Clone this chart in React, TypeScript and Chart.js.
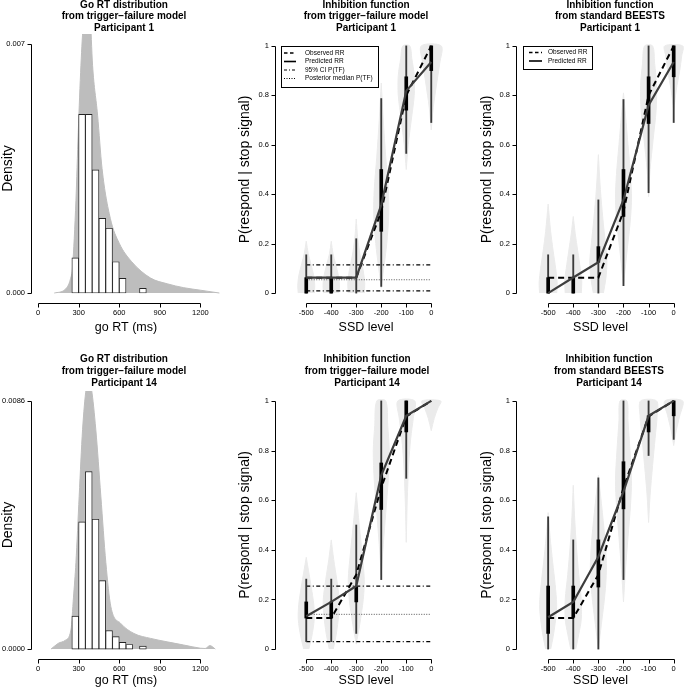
import React, { useEffect, useRef } from 'react';
import { Chart, registerables } from 'chart.js';

Chart.register(...registerables);

const FONT = '"Liberation Sans", Arial, Helvetica, sans-serif';
Chart.defaults.font.family = FONT;

// ---------------- data ----------------
const SSD_LEVELS = [-500, -400, -300, -200, -100, 0];
const SSD_TICK_LABELS = ['-500', '-400', '-300', '-200', '-100', '0'];
const P_TICKS = [0, 0.2, 0.4, 0.6, 0.8, 1];
const P_TICK_LABELS = ['0', '0.2', '0.4', '0.6', '0.8', '1'];
const RT_TICKS = [0, 300, 600, 900, 1200];
const RT_TICK_LABELS = ['0', '300', '600', '900', '1200'];

const P1_DENS_TICKS = [0, 0.007];
const P1_DENS_TICK_LABELS = ['0.000', '0.007'];
const P14_DENS_TICKS = [0, 0.0086];
const P14_DENS_TICK_LABELS = ['0.0000', '0.0086'];

// histogram of observed go RTs (50 ms bins)
const RT_BIN_CENTERS = [275, 325, 375, 425, 475, 525, 575, 625, 675, 725, 775];
const P1_HIST = [0.00099, 0.00502, 0.00502, 0.00346, 0.0021, 0.00182, 0.00088, 0.00041, 0, 0, 0.00013];
const P14_HIST = [0.00114, 0.00441, 0.00615, 0.0045, 0.00237, 0.00064, 0.00043, 0.00023, 0.00016, 0, 0.0001];

// envelope of posterior predictive densities
const P1_DENS_RT = [120, 200, 240, 255, 280, 297, 317, 335, 360, 385, 403, 440, 473, 534, 600, 692, 832, 955, 1077, 1200, 1340];
const P1_DENS = [0, 0.0001, 0.0004, 0.00074, 0.0026, 0.0045, 0.0064, 0.0076, 0.0082, 0.0078, 0.0064, 0.005, 0.0035, 0.0021, 0.0014, 0.00088, 0.00042, 0.00026, 0.00015, 0.00008, 0];
const P14_DENS_RT = [96, 150, 200, 243, 262, 280, 304, 329, 355, 375, 395, 427, 464, 501, 538, 611, 709, 832, 955, 1077, 1200, 1235, 1270, 1310];
const P14_DENS = [0, 0.0002, 0.0003, 0.00066, 0.0018, 0.003, 0.0053, 0.0076, 0.009, 0.0093, 0.009, 0.0076, 0.0053, 0.003, 0.00147, 0.00089, 0.00054, 0.00037, 0.00025, 0.00014, 0.00003, 0.00002, 0.00012, 0];

// observed / predicted response rates
const P1_OBSERVED = [0.0625, 0.0625, 0.0625, 0.33, 0.8, 1.0];
const P1_TF_PREDICTED = [0.0625, 0.0625, 0.0625, 0.357, 0.818, 0.935];
const P1_STD_PREDICTED = [0.0, 0.063, 0.125, 0.377, 0.76, 0.935];
const P14_OBSERVED = [0.125, 0.125, 0.3, 0.65, 0.9375, 1.0];
const P14_TF_PREDICTED = [0.132, 0.19, 0.254, 0.7, 0.94, 1.0];
const P14_STD_PREDICTED = [0.128, 0.19, 0.372, 0.634, 0.94, 1.0];

// credible intervals [low, high]
const P1_TF_CI_OUTER = [[0, 0.155], [0, 0.155], [0, 0.22], [0.027, 0.787], [0.565, 1], [0.69, 1]];
const P1_TF_CI_INNER = [[0, 0.0625], [0, 0.0625], null, [0.25, 0.5], [0.74, 0.875], [0.9, 1]];
const P1_STD_CI_OUTER = [[0, 0.155], [0, 0.155], [0, 0.377], [0.03, 0.783], [0.406, 1], [0.69, 1]];
const P1_STD_CI_INNER = [[0, 0.0625], [0, 0.0625], [0.125, 0.188], [0.31, 0.5], [0.686, 0.875], [0.875, 1]];
const P14_TF_CI_OUTER = [[0.03, 0.282], [0.03, 0.282], [0.063, 0.5], [0.28, 1], [0.688, 1], null];
const P14_TF_CI_INNER = [[0.125, 0.19], [0.125, 0.19], [0.19, 0.25], [0.5625, 0.75], [0.875, 1], null];
const P14_STD_CI_OUTER = [[0, 0.533], [0, 0.44], [0, 0.69], [0.28, 1], [0.78, 1], [0.845, 1]];
const P14_STD_CI_INNER = [[0.063, 0.254], [0.128, 0.254], [0.25, 0.44], [0.565, 0.755], [0.875, 0.94], [0.94, 1]];

// P(TF): lower 95%, posterior median, upper 95%
const P1_PTF = [0.009, 0.054, 0.114];
const P14_PTF = [0.03, 0.14, 0.254];

// violin profiles per SSD: [P(respond), half-width in SSD units]
const P1_TF_VIOLINS = [
  [[0, 32], [0.03, 34], [0.07, 30], [0.12, 18], [0.16, 8], [0.21, 0]],
  [[0, 30], [0.03, 33], [0.07, 29], [0.12, 17], [0.16, 7], [0.21, 0]],
  [[0, 32], [0.04, 34], [0.09, 28], [0.15, 16], [0.22, 6], [0.3, 0]],
  [[0.02, 0], [0.1, 10], [0.2, 22], [0.32, 30], [0.42, 28], [0.55, 18], [0.7, 8], [0.85, 0]],
  [[0.5, 0], [0.6, 8], [0.7, 20], [0.8, 32], [0.88, 32], [0.95, 22], [1, 14]],
  [[0.66, 0], [0.75, 8], [0.85, 22], [0.93, 34], [1, 40]],
];
const P1_STD_VIOLINS = [
  [[0, 34], [0.04, 36], [0.1, 30], [0.17, 20], [0.25, 10], [0.36, 0]],
  [[0, 32], [0.05, 34], [0.1, 28], [0.17, 18], [0.24, 8], [0.31, 0]],
  [[0, 20], [0.06, 30], [0.13, 34], [0.2, 28], [0.3, 18], [0.42, 8], [0.56, 0]],
  [[0.03, 0], [0.15, 12], [0.28, 26], [0.38, 32], [0.48, 28], [0.6, 18], [0.72, 8], [0.81, 0]],
  [[0.39, 0], [0.5, 6], [0.62, 18], [0.74, 30], [0.84, 32], [0.93, 24], [1, 16]],
  [[0.74, 0], [0.82, 10], [0.9, 24], [0.96, 32], [1, 36]],
];
const P14_TF_VIOLINS = [
  [[0, 10], [0.05, 22], [0.12, 32], [0.18, 30], [0.25, 20], [0.31, 10], [0.37, 0]],
  [[0, 8], [0.06, 20], [0.14, 30], [0.2, 32], [0.28, 22], [0.36, 10], [0.44, 0]],
  [[0.02, 0], [0.1, 14], [0.2, 28], [0.28, 32], [0.38, 24], [0.5, 12], [0.63, 0]],
  [[0.3, 0], [0.42, 8], [0.55, 18], [0.68, 28], [0.8, 32], [0.9, 26], [1, 18]],
  [[0.43, 0], [0.6, 4], [0.75, 10], [0.85, 18], [0.93, 28], [1, 34]],
  [[0.88, 0], [0.93, 12], [0.97, 26], [1, 38]],
];
const P14_STD_VIOLINS = [
  [[0, 10], [0.05, 20], [0.12, 30], [0.18, 34], [0.26, 28], [0.35, 18], [0.45, 8], [0.55, 0]],
  [[0, 10], [0.06, 22], [0.12, 32], [0.2, 32], [0.3, 22], [0.42, 12], [0.54, 5], [0.66, 0]],
  [[0, 0], [0.1, 12], [0.22, 26], [0.32, 32], [0.42, 28], [0.55, 16], [0.7, 0]],
  [[0.19, 0], [0.32, 8], [0.45, 18], [0.58, 28], [0.68, 32], [0.8, 26], [0.92, 18], [1, 14]],
  [[0.51, 0], [0.62, 6], [0.74, 16], [0.85, 26], [0.94, 34], [1, 32]],
  [[0.82, 0], [0.88, 10], [0.94, 24], [1, 36]],
];

// ---------------- styles ----------------
const VIOLIN_GRAY = '#ebebeb';
const DENS_GRAY = '#bdbdbd';
const DASH_OBS = [6, 4];
const DASH_DOTDASH = [4, 2.5, 1, 2.5];
const DASH_DOT = [1, 1.5];

function violinPoints(ssd: number, profile: number[][]) {
  const left = profile.map(([y, w]) => ({ x: ssd - w, y }));
  const right = profile.slice().reverse().map(([y, w]) => ({ x: ssd + w, y }));
  return [...left, ...right];
}

function goRtDatasets(hist: number[], densX: number[], densY: number[]) {
  return [
    {
      type: 'bar',
      data: RT_BIN_CENTERS.map((x, i) => ({ x, y: hist[i] })),
      backgroundColor: '#ffffff',
      borderColor: '#222222',
      borderWidth: 0.9,
      borderSkipped: false,
      barPercentage: 1,
      categoryPercentage: 1,
      grouped: false,
      order: 1,
    },
    {
      type: 'line',
      data: densX.map((x, i) => ({ x, y: densY[i] })),
      fill: 'origin',
      backgroundColor: DENS_GRAY,
      borderColor: DENS_GRAY,
      borderWidth: 1,
      pointRadius: 0,
      cubicInterpolationMode: 'monotone',
      order: 2,
    },
  ];
}

function inhibitionDatasets(
  violins: number[][][],
  outer: (number[] | null)[],
  inner: (number[] | null)[],
  observed: number[],
  predicted: number[],
  ptf: number[] | null,
) {
  const ds: any[] = [];
  violins.forEach((prof, i) => {
    ds.push({
      type: 'line',
      data: violinPoints(SSD_LEVELS[i], prof),
      fill: 'shape',
      backgroundColor: VIOLIN_GRAY,
      borderColor: VIOLIN_GRAY,
      borderWidth: 1,
      pointRadius: 0,
      tension: 0.3,
      order: 100,
    });
  });
  if (ptf) {
    const [lo, med, hi] = ptf;
    [lo, hi].forEach((v) =>
      ds.push({
        type: 'line',
        data: [{ x: SSD_LEVELS[0], y: v }, { x: SSD_LEVELS[SSD_LEVELS.length - 1], y: v }],
        borderColor: '#000000',
        borderWidth: 1.3,
        borderDash: DASH_DOTDASH,
        pointRadius: 0,
        fill: false,
        order: 50,
      }),
    );
    ds.push({
      type: 'line',
      data: [{ x: SSD_LEVELS[0], y: med }, { x: SSD_LEVELS[SSD_LEVELS.length - 1], y: med }],
      borderColor: '#555555',
      borderWidth: 1,
      borderDash: DASH_DOT,
      pointRadius: 0,
      fill: false,
      order: 49,
    });
  }
  ds.push({
    type: 'bar',
    data: SSD_LEVELS.map((s, i) => (outer[i] ? { x: s, y: outer[i] } : null)).filter(Boolean),
    backgroundColor: '#3a3a3a',
    borderWidth: 0,
    barThickness: 1.2,
    grouped: false,
    order: 40,
  });
  ds.push({
    type: 'bar',
    data: SSD_LEVELS.map((s, i) => (inner[i] ? { x: s, y: inner[i] } : null)).filter(Boolean),
    backgroundColor: '#000000',
    borderWidth: 0,
    barThickness: 3,
    grouped: false,
    order: 30,
  });
  ds.push({
    type: 'line',
    data: SSD_LEVELS.map((s, i) => ({ x: s, y: observed[i] })),
    borderColor: '#000000',
    borderWidth: 2,
    borderDash: DASH_OBS,
    pointRadius: 0,
    fill: false,
    order: 20,
  });
  ds.push({
    type: 'line',
    data: SSD_LEVELS.map((s, i) => ({ x: s, y: predicted[i] })),
    borderColor: '#3d3d3d',
    borderWidth: 2.2,
    pointRadius: 0,
    fill: false,
    order: 10,
  });
  return ds;
}

type LegendItem = { label: string; dash: number[]; width: number; color: string };
const LEGEND_TF: LegendItem[] = [
  { label: 'Observed RR', dash: [3.5, 2.5], width: 1.6, color: '#000' },
  { label: 'Predicted RR', dash: [], width: 1.6, color: '#000' },
  { label: '95% CI P(TF)', dash: [3, 2, 1, 2], width: 1, color: '#000' },
  { label: 'Posterior median P(TF)', dash: [1, 1.5], width: 1, color: '#000' },
];
const LEGEND_STD: LegendItem[] = LEGEND_TF.slice(0, 2);

type Spec = {
  key: string;
  left: number; top: number; width: number; height: number;
  areaTop: number; axisW: number; axisH: number; padRight: number;
  xMin: number; xMax: number; yMin: number; yMax: number;
  xTicks: number[]; xTickLabels: string[]; yTicks: number[]; yTickLabels: string[];
  xTitle: string; yTitle: string; xTitlePad: number; yTitlePad: number;
  title: string[]; titleX: number; titleY: number[];
  datasets: any[];
  legend?: { box: number[]; rows: number[]; sample: number[]; textX: number; items: LegendItem[] };
};

const ROW1 = { top: 0, areaTop: 34, axisH: 42, xTitlePad: 9.5, titleY: [5, 16.5, 28] };
const ROW2 = { top: 345, areaTop: 46, axisH: 31, xTitlePad: 1.5, titleY: [14.5, 26.5, 38.5] };

const SPECS: Spec[] = [
  {
    key: 'p1go', left: 0, top: ROW1.top, width: 228, height: 345,
    areaTop: ROW1.areaTop, axisW: 31, axisH: ROW1.axisH, padRight: 7,
    xMin: -52, xMax: 1352, yMin: -0.00028, yMax: 0.00728,
    xTicks: RT_TICKS, xTickLabels: RT_TICK_LABELS, yTicks: P1_DENS_TICKS, yTickLabels: P1_DENS_TICK_LABELS,
    xTitle: 'go RT (ms)', yTitle: 'Density', xTitlePad: ROW1.xTitlePad, yTitlePad: 0,
    title: ['Go RT distribution', 'from trigger\u2212failure model', 'Participant 1'], titleX: 124, titleY: ROW1.titleY,
    datasets: goRtDatasets(P1_HIST, P1_DENS_RT, P1_DENS),
  },
  {
    key: 'p1tf', left: 228, top: ROW1.top, width: 229, height: 345,
    areaTop: 36, axisW: 47, axisH: ROW1.axisH, padRight: 0,
    xMin: -625, xMax: 103, yMin: -0.04, yMax: 1.04,
    xTicks: SSD_LEVELS, xTickLabels: SSD_TICK_LABELS, yTicks: P_TICKS, yTickLabels: P_TICK_LABELS,
    xTitle: 'SSD level', yTitle: 'P(respond | stop signal)', xTitlePad: ROW1.xTitlePad, yTitlePad: 8.6,
    title: ['Inhibition function', 'from trigger\u2212failure model', 'Participant 1'], titleX: 138, titleY: ROW1.titleY,
    datasets: inhibitionDatasets(P1_TF_VIOLINS, P1_TF_CI_OUTER, P1_TF_CI_INNER, P1_OBSERVED, P1_TF_PREDICTED, P1_PTF),
    legend: { box: [53, 46, 150, 87], rows: [53, 61.5, 70, 78.5], sample: [56, 68], textX: 77, items: LEGEND_TF },
  },
  {
    key: 'p1std', left: 457, top: ROW1.top, width: 228, height: 345,
    areaTop: 36, axisW: 59, axisH: ROW1.axisH, padRight: 0,
    xMin: -628, xMax: 45, yMin: -0.04, yMax: 1.04,
    xTicks: SSD_LEVELS, xTickLabels: SSD_TICK_LABELS, yTicks: P_TICKS, yTickLabels: P_TICK_LABELS,
    xTitle: 'SSD level', yTitle: 'P(respond | stop signal)', xTitlePad: ROW1.xTitlePad, yTitlePad: 21.6,
    title: ['Inhibition function', 'from standard BEESTS', 'Participant 1'], titleX: 153, titleY: ROW1.titleY,
    datasets: inhibitionDatasets(P1_STD_VIOLINS, P1_STD_CI_OUTER, P1_STD_CI_INNER, P1_OBSERVED, P1_STD_PREDICTED, null),
    legend: { box: [66, 46, 135, 69], rows: [52.5, 61], sample: [72, 85], textX: 91, items: LEGEND_STD },
  },
  {
    key: 'p14go', left: 0, top: ROW2.top, width: 228, height: 345,
    areaTop: ROW2.areaTop, axisW: 31, axisH: ROW2.axisH, padRight: 7,
    xMin: -52, xMax: 1352, yMin: -0.000344, yMax: 0.008944,
    xTicks: RT_TICKS, xTickLabels: RT_TICK_LABELS, yTicks: P14_DENS_TICKS, yTickLabels: P14_DENS_TICK_LABELS,
    xTitle: 'go RT (ms)', yTitle: 'Density', xTitlePad: ROW2.xTitlePad, yTitlePad: 0,
    title: ['Go RT distribution', 'from trigger\u2212failure model', 'Participant 14'], titleX: 124, titleY: ROW2.titleY,
    datasets: goRtDatasets(P14_HIST, P14_DENS_RT, P14_DENS),
  },
  {
    key: 'p14tf', left: 228, top: ROW2.top, width: 229, height: 345,
    areaTop: ROW2.areaTop, axisW: 47, axisH: ROW2.axisH, padRight: 0,
    xMin: -625, xMax: 103, yMin: -0.04, yMax: 1.04,
    xTicks: SSD_LEVELS, xTickLabels: SSD_TICK_LABELS, yTicks: P_TICKS, yTickLabels: P_TICK_LABELS,
    xTitle: 'SSD level', yTitle: 'P(respond | stop signal)', xTitlePad: ROW2.xTitlePad, yTitlePad: 8.6,
    title: ['Inhibition function', 'from trigger\u2212failure model', 'Participant 14'], titleX: 139, titleY: ROW2.titleY,
    datasets: inhibitionDatasets(P14_TF_VIOLINS, P14_TF_CI_OUTER, P14_TF_CI_INNER, P14_OBSERVED, P14_TF_PREDICTED, P14_PTF),
  },
  {
    key: 'p14std', left: 457, top: ROW2.top, width: 228, height: 345,
    areaTop: ROW2.areaTop, axisW: 59, axisH: ROW2.axisH, padRight: 0,
    xMin: -628, xMax: 45, yMin: -0.04, yMax: 1.04,
    xTicks: SSD_LEVELS, xTickLabels: SSD_TICK_LABELS, yTicks: P_TICKS, yTickLabels: P_TICK_LABELS,
    xTitle: 'SSD level', yTitle: 'P(respond | stop signal)', xTitlePad: ROW2.xTitlePad, yTitlePad: 21.6,
    title: ['Inhibition function', 'from standard BEESTS', 'Participant 14'], titleX: 152, titleY: ROW2.titleY,
    datasets: inhibitionDatasets(P14_STD_VIOLINS, P14_STD_CI_OUTER, P14_STD_CI_INNER, P14_OBSERVED, P14_STD_PREDICTED, null),
  },
];

function makeDecor(spec: Spec) {
  return {
    id: 'decor_' + spec.key,
    afterDraw(chart: any) {
      const { ctx, chartArea: a } = chart;
      const xs = chart.scales.x;
      const ys = chart.scales.y;
      ctx.save();
      ctx.setLineDash([]);
      ctx.strokeStyle = '#000';
      ctx.lineWidth = 1;
      // R-style x axis
      const yb = Math.round(a.bottom) + 0.5;
      const xp = spec.xTicks.map((v) => Math.round(xs.getPixelForValue(v)) + 0.5);
      ctx.beginPath();
      ctx.moveTo(xp[0], yb);
      ctx.lineTo(xp[xp.length - 1], yb);
      xp.forEach((p) => { ctx.moveTo(p, yb); ctx.lineTo(p, yb + 4); });
      // R-style y axis
      const xl = Math.round(a.left) + 0.5;
      const yp = spec.yTicks.map((v) => Math.round(ys.getPixelForValue(v)) + 0.5);
      ctx.moveTo(xl, yp[0]);
      ctx.lineTo(xl, yp[yp.length - 1]);
      yp.forEach((p) => { ctx.moveTo(xl, p); ctx.lineTo(xl - 4, p); });
      ctx.stroke();
      // panel title
      ctx.fillStyle = '#000';
      ctx.font = `bold 10px ${FONT}`;
      ctx.textAlign = 'center';
      ctx.textBaseline = 'middle';
      spec.title.forEach((t, i) => ctx.fillText(t, spec.titleX, spec.titleY[i]));
      // legend
      const lg = spec.legend;
      if (lg) {
        const [bx0, by0, bx1, by1] = lg.box;
        ctx.fillStyle = '#fff';
        ctx.fillRect(bx0, by0, bx1 - bx0, by1 - by0);
        ctx.strokeStyle = '#000';
        ctx.lineWidth = 1;
        ctx.strokeRect(bx0 + 0.5, by0 + 0.5, bx1 - bx0, by1 - by0);
        ctx.font = `6.5px ${FONT}`;
        ctx.textAlign = 'left';
        lg.items.forEach((it, i) => {
          const yy = lg.rows[i];
          ctx.setLineDash(it.dash);
          ctx.lineWidth = it.width;
          ctx.strokeStyle = it.color;
          ctx.beginPath();
          ctx.moveTo(lg.sample[0], yy);
          ctx.lineTo(lg.sample[1], yy);
          ctx.stroke();
          ctx.setLineDash([]);
          ctx.fillStyle = '#000';
          ctx.fillText(it.label, lg.textX, yy);
        });
      }
      ctx.restore();
    },
  };
}

function buildConfig(spec: Spec): any {
  const tickFont = { size: 7.5, family: FONT };
  return {
    type: 'line',
    data: { datasets: spec.datasets },
    options: {
      responsive: false,
      maintainAspectRatio: false,
      animation: false,
      events: [],
      layout: { padding: { top: spec.areaTop, right: spec.padRight, left: 0, bottom: 0 } },
      plugins: { legend: { display: false }, tooltip: { enabled: false }, title: { display: false } },
      scales: {
        x: {
          type: 'linear',
          position: 'bottom',
          min: spec.xMin,
          max: spec.xMax,
          offset: false,
          grid: { display: false, drawTicks: false },
          border: { display: false },
          afterBuildTicks: (s: any) => { s.ticks = spec.xTicks.map((v) => ({ value: v })); },
          afterFit: (s: any) => { s.height = spec.axisH; },
          ticks: {
            padding: 5, font: tickFont, color: '#000', autoSkip: false, maxRotation: 0, minRotation: 0,
            callback: (_v: any, i: number) => spec.xTickLabels[i],
          },
          title: {
            display: true, text: spec.xTitle, color: '#000',
            font: { size: 12.5, family: FONT }, padding: { top: 0, bottom: spec.xTitlePad },
          },
        },
        y: {
          type: 'linear',
          position: 'left',
          min: spec.yMin,
          max: spec.yMax,
          grid: { display: false, drawTicks: false },
          border: { display: false },
          afterBuildTicks: (s: any) => { s.ticks = spec.yTicks.map((v) => ({ value: v })); },
          afterFit: (s: any) => { s.width = spec.axisW; },
          ticks: {
            padding: 6, font: tickFont, color: '#000', autoSkip: false,
            callback: (_v: any, i: number) => spec.yTickLabels[i],
          },
          title: {
            display: true, text: spec.yTitle, color: '#000',
            font: { size: 14, family: FONT }, padding: { top: spec.yTitlePad, bottom: 0 },
          },
        },
      },
    },
    plugins: [makeDecor(spec)],
  };
}

function Panel({ spec }: { spec: Spec }) {
  const ref = useRef<HTMLCanvasElement | null>(null);
  useEffect(() => {
    if (!ref.current) return;
    const chart = new Chart(ref.current, buildConfig(spec));
    return () => chart.destroy();
  }, [spec]);
  return (
    <canvas
      ref={ref}
      width={spec.width}
      height={spec.height}
      style={{ position: 'absolute', left: spec.left, top: spec.top, width: spec.width, height: spec.height }}
    />
  );
}

export default function App() {
  return (
    <div style={{ position: 'absolute', left: 0, top: 0, width: 685, height: 690, background: '#ffffff', overflow: 'hidden' }}>
      {SPECS.map((s) => (
        <Panel key={s.key} spec={s} />
      ))}
    </div>
  );
}
